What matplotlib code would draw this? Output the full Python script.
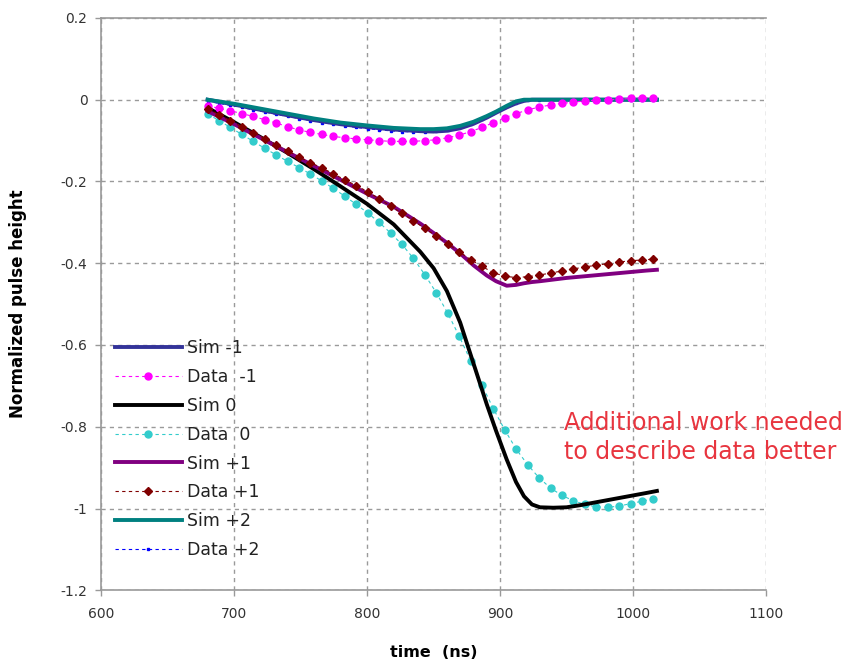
import matplotlib
matplotlib.use("Agg")
import matplotlib.pyplot as plt
import matplotlib.ticker as ticker

plt.rcParams["font.family"] = ["DejaVu Sans"]
plt.rcParams["axes.unicode_minus"] = False

# sample times of the measured points (ns)
t_data = [680.0, 688.6, 697.2, 705.8, 714.4, 723.0, 731.6, 740.2, 748.8, 757.4,
          766.0, 774.6, 783.2, 791.8, 800.4, 809.0, 817.6, 826.2, 834.8, 843.4,
          852.0, 860.6, 869.2, 877.8, 886.4, 895.0, 903.6, 912.2, 920.8, 929.4,
          938.0, 946.6, 955.2, 963.8, 972.4, 981.0, 989.6, 998.2, 1006.8, 1015.4]

data_m1 = [-0.015, -0.021, -0.027, -0.034, -0.041, -0.049, -0.057, -0.066, -0.074,
           -0.080, -0.085, -0.090, -0.093, -0.096, -0.098, -0.100, -0.102, -0.102,
           -0.102, -0.100, -0.098, -0.093, -0.087, -0.078, -0.068, -0.056, -0.044,
           -0.034, -0.025, -0.018, -0.013, -0.009, -0.006, -0.003, -0.001, 0.000,
           0.001, 0.003, 0.004, 0.005]

data_0 = [-0.035, -0.051, -0.068, -0.085, -0.102, -0.119, -0.135, -0.151, -0.166,
          -0.182, -0.199, -0.217, -0.236, -0.256, -0.277, -0.300, -0.326, -0.354,
          -0.388, -0.428, -0.472, -0.522, -0.578, -0.638, -0.698, -0.756, -0.808,
          -0.855, -0.893, -0.925, -0.950, -0.968, -0.981, -0.990, -0.996, -0.997,
          -0.994, -0.988, -0.982, -0.976]

data_p1 = [-0.022, -0.037, -0.052, -0.067, -0.081, -0.095, -0.110, -0.125, -0.140,
           -0.154, -0.167, -0.181, -0.196, -0.210, -0.225, -0.242, -0.260, -0.278,
           -0.296, -0.315, -0.333, -0.352, -0.372, -0.391, -0.408, -0.423, -0.432,
           -0.435, -0.433, -0.429, -0.424, -0.419, -0.414, -0.409, -0.405, -0.401,
           -0.397, -0.394, -0.392, -0.390]

data_p2 = [-0.004, -0.009, -0.014, -0.019, -0.025, -0.030, -0.036, -0.041, -0.046,
           -0.051, -0.056, -0.060, -0.064, -0.068, -0.071, -0.074, -0.076, -0.078,
           -0.079, -0.079, -0.077, -0.074, -0.068, -0.059, -0.047, -0.033, -0.019,
           -0.007, -0.001, 0.000, 0.000, 0.000, 0.000, 0.000, 0.000, 0.000, 0.000,
           0.000, 0.000, 0.000]

# simulation curves
t_sim = [680, 700, 720, 740, 760, 780, 800, 820, 840, 850, 860, 870, 880, 890,
         897, 905, 912, 918, 924, 930, 940, 950, 960, 970, 980, 990, 1000, 1010,
         1018]

sim_m1 = [0.000, -0.012, -0.025, -0.038, -0.050, -0.060, -0.067, -0.073, -0.077,
          -0.078, -0.076, -0.070, -0.059, -0.044, -0.032, -0.019, -0.009, -0.003,
          0.000, 0.000, 0.000, 0.000, 0.000, 0.000, 0.000, 0.000, 0.000, 0.000,
          0.000]

sim_0 = [-0.020, -0.055, -0.092, -0.130, -0.170, -0.212, -0.255, -0.305, -0.372,
         -0.412, -0.468, -0.545, -0.645, -0.745, -0.810, -0.880, -0.935, -0.970,
         -0.990, -0.997, -0.998, -0.997, -0.992, -0.986, -0.980, -0.974, -0.968,
         -0.962, -0.957]

sim_p1 = [-0.028, -0.060, -0.094, -0.128, -0.162, -0.196, -0.230, -0.262, -0.303,
          -0.326, -0.350, -0.376, -0.405, -0.430, -0.444, -0.455, -0.453, -0.449,
          -0.446, -0.444, -0.440, -0.436, -0.433, -0.430, -0.427, -0.424, -0.421,
          -0.418, -0.416]

sim_p2 = [0.000, -0.010, -0.022, -0.034, -0.046, -0.056, -0.063, -0.069, -0.072,
          -0.072, -0.070, -0.064, -0.054, -0.040, -0.029, -0.015, -0.004, 0.000,
          0.000, 0.000, 0.000, 0.000, 0.000, 0.000, 0.000, 0.000, 0.000, 0.000,
          0.000]

x_ticks = [600, 700, 800, 900, 1000, 1100]
y_ticks = [0.2, 0, -0.2, -0.4, -0.6, -0.8, -1, -1.2]

fig = plt.figure(figsize=(8.51, 6.64), dpi=100)
ax = fig.add_axes([0.119, 0.111, 0.781, 0.862])

dash = (0, (3, 3))
ax.plot(t_sim, sim_m1, color="#333399", lw=2.8, label="Sim -1", zorder=3)
ax.plot(t_data, data_m1, color="#FF00FF", lw=0.8, ls=dash, marker="o",
        ms=5, mec="#FF00FF", label="Data  -1", zorder=4)
ax.plot(t_sim, sim_0, color="black", lw=2.8, label="Sim 0", zorder=3)
ax.plot(t_data, data_0, color="#33CCCC", lw=0.8, ls=dash, marker="o",
        ms=5, mec="#33CCCC", label="Data  0", zorder=2)
ax.plot(t_sim, sim_p1, color="#800080", lw=2.8, label="Sim +1", zorder=3)
ax.plot(t_data, data_p1, color="#800000", lw=0.8, ls=dash, marker="D",
        ms=4, mec="#800000", label="Data +1", zorder=4)
ax.plot(t_sim, sim_p2, color="#008080", lw=2.8, label="Sim +2", zorder=3)
ax.plot(t_data, data_p2, color="#0000FF", lw=0.8, ls=dash, marker="s",
        ms=2, mec="#0000FF", label="Data +2", zorder=2.5)

ax.set_xlim(600, 1100)
ax.set_ylim(-1.2, 0.2)
ax.set_xticks(x_ticks)
ax.set_yticks(y_ticks)
ax.yaxis.set_major_formatter(ticker.FuncFormatter(lambda v, p: f"{v:g}"))
ax.tick_params(labelsize=10, labelcolor="#333333", color="#999999",
               length=4, width=1, direction="out")
ax.tick_params(axis="x", pad=8)
ax.tick_params(axis="y", pad=6)

ax.grid(True, color="#9a9a9a", ls=dash, lw=1)
for side in ("left", "bottom", "top"):
    ax.spines[side].set_color("#999999")
    ax.spines[side].set_linewidth(1.2)
ax.spines["right"].set_visible(False)

ax.set_xlabel("time  (ns)", fontsize=11.5, fontweight="bold", labelpad=17)
ax.set_ylabel("Normalized pulse height", fontsize=12, fontweight="bold",
              labelpad=24)

ax.text(948, -0.762, "Additional work needed\nto describe data better",
        color="#E8353F", fontsize=17, va="top", ha="left", linespacing=1.25)

leg = ax.legend(loc="lower left", bbox_to_anchor=(0.02, 0.055), frameon=False,
                fontsize=12.5, handlelength=3.9, labelspacing=0.62,
                handletextpad=0.25, borderaxespad=0, borderpad=0)
for txt in leg.get_texts():
    txt.set_color("#222222")

fig.savefig("out.png", dpi=100)
